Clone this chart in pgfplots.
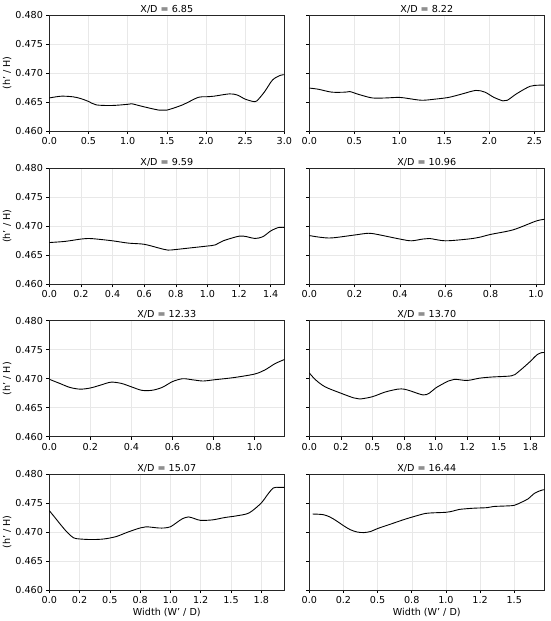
\documentclass[border=0pt]{standalone}
\usepackage{fontspec}
\setmainfont{DejaVu Sans}
\usepackage{pgfplots}
\pgfplotsset{compat=1.18}
\tikzset{curve/.style={black, line width=0.9pt, smooth, tension=0.5, mark=none}}
\pgfplotsset{
  panel/.style={
    scale only axis, width=235pt, height=116pt,
    anchor=south west,
    ymin=0.460, ymax=0.480,
    ytick={0.460,0.465,0.470,0.475,0.480},
    xmin=0,
    /pgf/number format/assume math mode=true,
    yticklabel style={/pgf/number format/fixed,/pgf/number format/precision=3,/pgf/number format/fixed zerofill},
    xticklabel style={/pgf/number format/fixed,/pgf/number format/precision=1,/pgf/number format/fixed zerofill},
    scaled y ticks=false, scaled x ticks=false,
    tick align=outside, major tick length=3pt,
    tick style={black, line width=0.6pt},
    xtick pos=bottom, ytick pos=left,
    grid=major,
    major grid style={line width=0.5pt, color=black!9},
    axis line style={line width=0.7pt, black!85},
    every axis title/.style={at={(axis description cs:0.5,1)}, anchor=base, yshift=3pt},
    every axis x label/.style={at={(axis description cs:0.5,0)}, anchor=center, yshift=-22.3pt},
    every axis y label/.style={at={(axis description cs:-0.179,0.5)}, rotate=90, anchor=center},
  },
  leftpanel/.style={panel, ylabel={(h' / H)}},
  rightpanel/.style={panel, yticklabels={}},
}
\begin{document}
\fontsize{9.6}{11.5}\selectfont
\begin{tikzpicture}
\useasboundingbox (0,0) rectangle (550pt,-621pt);

% Row 1
\begin{axis}[leftpanel, at={(49.3pt,-131pt)}, title={X/D = 6.85},
  xmax=3.0, xtick={0,0.5,...,3.0}]
\addplot[curve] coordinates {
(0,0.4657)(0.15,0.4660)(0.3,0.4659)(0.4,0.4656)(0.5,0.4651)(0.6,0.4645)(0.8,0.4644)
(1.0,0.4646)(1.05,0.4647)(1.2,0.4642)(1.4,0.4636)(1.5,0.4636)(1.7,0.4645)(1.9,0.4658)
(2.0,0.4659)(2.1,0.4660)(2.3,0.4664)(2.4,0.4662)(2.5,0.4655)(2.6,0.4651)(2.65,0.4652)
(2.75,0.4668)(2.85,0.4688)(2.95,0.4696)(3.0,0.4697)};
\end{axis}
\begin{axis}[rightpanel, at={(309.3pt,-131pt)}, title={X/D = 8.22},
  xmax=2.61, xtick={0,0.5,...,2.5}]
\addplot[curve] coordinates {
(0,0.4674)(0.1,0.4672)(0.25,0.4667)(0.4,0.4667)(0.45,0.4668)(0.55,0.4663)(0.7,0.4657)
(0.85,0.4657)(1.0,0.4658)(1.1,0.4656)(1.25,0.4653)(1.4,0.4655)(1.55,0.4658)(1.7,0.4664)
(1.85,0.4670)(1.95,0.4667)(2.05,0.4658)(2.15,0.4652)(2.2,0.4653)(2.3,0.4664)(2.45,0.4677)
(2.55,0.4679)(2.61,0.4679)};
\end{axis}

% Row 2
\begin{axis}[leftpanel, at={(49.3pt,-284.3pt)}, title={X/D = 9.59},
  xmax=1.486, xtick={0,0.2,...,1.41}]
\addplot[curve] coordinates {
(0,0.4672)(0.1,0.4674)(0.2,0.4678)(0.25,0.4679)(0.3,0.4678)(0.4,0.4675)(0.5,0.4671)
(0.6,0.4669)(0.7,0.4662)(0.75,0.4659)(0.8,0.4660)(0.9,0.4663)(1.0,0.4666)(1.05,0.4668)
(1.1,0.4675)(1.2,0.4683)(1.25,0.4682)(1.3,0.4679)(1.35,0.4682)(1.4,0.4692)(1.45,0.4698)
(1.486,0.4698)};
\end{axis}
\begin{axis}[rightpanel, at={(309.3pt,-284.3pt)}, title={X/D = 10.96},
  xmax=1.037, xtick={0,0.2,...,1.01}]
\addplot[curve] coordinates {
(0,0.4684)(0.05,0.4681)(0.1,0.4680)(0.2,0.4685)(0.26,0.4688)(0.3,0.4686)(0.4,0.4678)
(0.45,0.4675)(0.5,0.4678)(0.53,0.4679)(0.6,0.4675)(0.7,0.4678)(0.75,0.4681)(0.8,0.4686)
(0.9,0.4694)(1.0,0.4709)(1.037,0.4712)};
\end{axis}

% Row 3
\begin{axis}[leftpanel, at={(49.3pt,-436.7pt)}, title={X/D = 12.33},
  xmax=1.145, xtick={0,0.2,...,1.01}]
\addplot[curve] coordinates {
(0,0.4699)(0.05,0.4692)(0.1,0.4685)(0.15,0.4682)(0.2,0.4684)(0.25,0.4689)(0.3,0.4694)
(0.35,0.4692)(0.4,0.4686)(0.45,0.4680)(0.5,0.4680)(0.55,0.4685)(0.6,0.4695)(0.65,0.4700)
(0.7,0.4698)(0.75,0.4696)(0.8,0.4698)(0.9,0.4702)(1.0,0.4708)(1.05,0.4715)(1.1,0.4726)
(1.145,0.4733)};
\end{axis}
\begin{axis}[rightpanel, at={(309.3pt,-436.7pt)}, title={X/D = 13.70},
  xmax=1.86, xtick={0,0.25,0.5,0.75,1.0,1.25,1.5,1.75},
  xticklabels={0.0,0.2,0.5,0.8,1.0,1.2,1.5,1.8}]
\addplot[curve] coordinates {
(0,0.4710)(0.05,0.4698)(0.125,0.4686)(0.25,0.4675)(0.35,0.4667)(0.4,0.4665)(0.5,0.4669)
(0.6,0.4677)(0.7,0.4682)(0.75,0.4682)(0.8,0.4679)(0.9,0.4672)(0.95,0.4675)(1.0,0.4684)
(1.1,0.4696)(1.15,0.4699)(1.25,0.4697)(1.35,0.4701)(1.45,0.4703)(1.6,0.4705)(1.65,0.4711)
(1.75,0.4730)(1.8,0.4741)(1.84,0.4745)(1.86,0.4745)};
\end{axis}

% Row 4
\begin{axis}[leftpanel, at={(49.3pt,-590pt)}, title={X/D = 15.07},
  xlabel={Width (W' / D)},
  xmax=1.94, xtick={0,0.25,0.5,0.75,1.0,1.25,1.5,1.75},
  xticklabels={0.0,0.2,0.5,0.8,1.0,1.2,1.5,1.8}]
\addplot[curve] coordinates {
(0,0.4737)(0.05,0.4724)(0.1,0.4711)(0.15,0.4699)(0.2,0.4690)(0.25,0.4688)(0.35,0.4687)
(0.45,0.4688)(0.55,0.4692)(0.65,0.4700)(0.75,0.4707)(0.8,0.4709)(0.9,0.4707)(0.95,0.4707)
(1.0,0.4709)(1.05,0.4716)(1.1,0.4723)(1.15,0.4726)(1.2,0.4723)(1.25,0.4720)(1.35,0.4721)
(1.45,0.4725)(1.55,0.4728)(1.65,0.4733)(1.75,0.4750)(1.8,0.4764)(1.85,0.4776)(1.9,0.4777)
(1.94,0.4777)};
\end{axis}
\begin{axis}[rightpanel, at={(309.3pt,-590pt)}, title={X/D = 16.44},
  xlabel={Width (W' / D)},
  xmax=1.72, xtick={0,0.25,0.5,0.75,1.0,1.25,1.5},
  xticklabels={0.0,0.2,0.5,0.8,1.0,1.2,1.5}]
\addplot[curve] coordinates {
(0.025,0.4731)(0.1,0.4730)(0.15,0.4726)(0.2,0.4719)(0.25,0.4711)(0.3,0.4704)(0.35,0.4700)
(0.4,0.4699)(0.45,0.4701)(0.5,0.4706)(0.6,0.4714)(0.7,0.4722)(0.8,0.4729)(0.85,0.4732)
(0.9,0.4733)(1.0,0.4734)(1.05,0.4736)(1.1,0.4739)(1.2,0.4741)(1.3,0.4742)(1.35,0.4744)
(1.45,0.4745)(1.5,0.4746)(1.55,0.4751)(1.6,0.4757)(1.65,0.4767)(1.7,0.4772)(1.72,0.4773)};
\end{axis}
\end{tikzpicture}
\end{document}
